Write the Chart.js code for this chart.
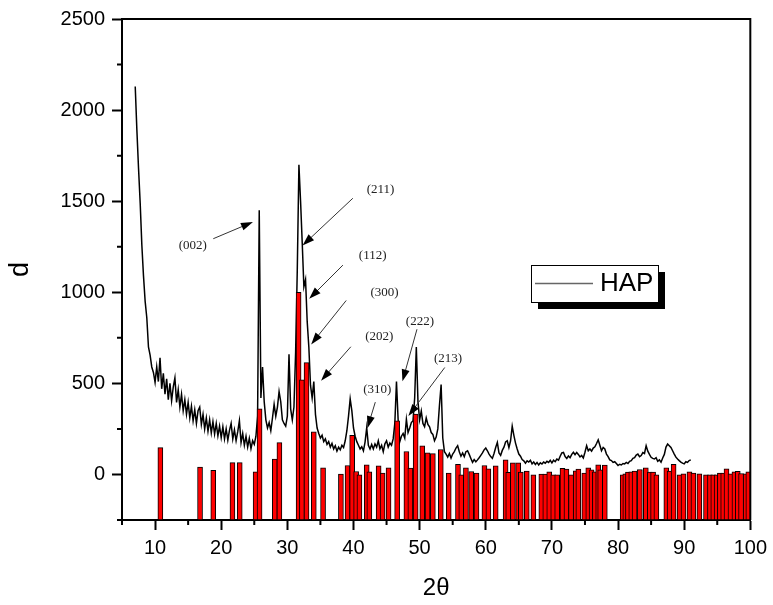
<!DOCTYPE html>
<html>
<head>
<meta charset="utf-8">
<script src="https://cdn.jsdelivr.net/npm/chart.js@4/dist/chart.umd.min.js"></script>
<style>
  body { margin: 0; background: #fff; }
  #wrap { width: 773px; height: 605px; }
</style>
</head>
<body>
<div id="wrap"><canvas id="xrdChart" width="773" height="605"></canvas></div>
<script>
// axis ranges / ticks
const xMin = 5, xMax = 100;
const yMin = -250, yMax = 2500;
const xTicks = [10, 20, 30, 40, 50, 60, 70, 80, 90, 100];
const xMinorTicks = [5, 15, 25, 35, 45, 55, 65, 75, 85, 95];
const yTicks = [0, 500, 1000, 1500, 2000, 2500];
const yMinorTicks = [-250, 250, 750, 1250, 1750, 2250];

// measured pattern (HAP): start angle, step, intensities (one row = one degree)
const scanLabel = "HAP";
const scanStart = 7;
const scanStep = 0.25;
const scanCounts = [
  2130, 1890, 1680, 1490,   // 7
  1260, 1090, 950, 860,     // 8
  700, 655, 590, 560,       // 9
  505, 590, 510, 640,       // 10
  470, 555, 440, 525,       // 11
  410, 500, 405, 480,       // 12
  530, 395, 465, 370,       // 13
  440, 350, 410, 330,       // 14
  395, 310, 375, 295,       // 15
  355, 280, 350, 370,       // 16
  275, 330, 250, 310,       // 17
  238, 300, 228, 290,       // 18
  222, 280, 212, 265,       // 19
  202, 262, 195, 250,       // 20
  188, 242, 280, 195,       // 21
  245, 185, 235, 295,       // 22
  175, 225, 160, 210,       // 23
  150, 198, 142, 185,       // 24
  165, 210, 320, 1450,      // 25
  420, 590, 400, 300,       // 26
  255, 285, 240, 310,       // 27
  385, 320, 370, 455,       // 28
  400, 300, 280, 265,       // 29
  320, 660, 360, 300,       // 30
  370, 670, 1120, 1700,     // 31
  1500, 1270, 1030, 1070,   // 32
  840, 700, 490, 420,       // 33
  510, 330, 255, 225,       // 34
  200, 215, 180, 195,       // 35
  165, 180, 150, 170,       // 36
  140, 158, 128, 150,       // 37
  135, 160, 148, 185,       // 38
  240, 320, 415, 350,       // 39
  255, 210, 180, 160,       // 40
  140, 152, 130, 178,       // 41
  257, 160, 140, 165,       // 42
  140, 168, 150, 185,       // 43
  140, 160, 125, 168,       // 44
  185, 150, 172, 160,       // 45
  195, 280, 510, 300,       // 46
  180, 210, 225, 200,       // 47
  303, 230, 255, 285,       // 48
  295, 420, 700, 400,       // 49
  300, 348, 280, 262,       // 50
  310, 275, 262, 230,       // 51
  220, 185, 205, 250,       // 52
  380, 493, 200, 125,       // 53
  112, 95, 115, 90,         // 54
  112, 125, 145, 158,       // 55
  125, 100, 118, 98,        // 56
  125, 130, 110, 88,        // 57
  67, 82, 70, 80,           // 58
  92, 105, 118, 135,        // 59
  145, 130, 112, 98,        // 60
  88, 115, 148, 176,        // 61
  118, 105, 132, 150,       // 62
  178, 185, 148, 185,       // 63
  265, 215, 172, 140,       // 64
  112, 100, 82, 75,         // 65
  62, 75, 68, 78,           // 66
  58, 68, 55, 66,           // 67
  52, 64, 57, 68,           // 68
  62, 72, 66, 78,           // 69
  64, 78, 70, 84,           // 70
  78, 100, 118, 121,        // 71
  98, 88, 102, 92,          // 72
  110, 122, 108, 121,       // 73
  110, 96, 104, 90,         // 74
  122, 158, 130, 140,       // 75
  128, 145, 152, 170,       // 76
  190, 160, 130, 148,       // 77
  140, 112, 98, 80,         // 78
  76, 66, 70, 60,           // 79
  49, 56, 52, 60,           // 80
  58, 66, 60, 72,           // 81
  76, 88, 92, 106,          // 82
  112, 98, 104, 120,        // 83
  115, 158, 128, 110,       // 84
  94, 88, 85, 92,           // 85
  72, 80, 67, 90,           // 86
  110, 150, 167, 158,       // 87
  148, 130, 112, 95,        // 88
  85, 76, 68, 62,           // 89
  58, 70, 66, 76,           // 90
  80                        // 91
];

// reference pattern sticks
const refTheta = [10.8, 16.8, 18.8, 21.7, 22.8, 25.2, 25.8, 28.1, 28.8, 31.7, 32.2, 32.9, 34.0, 35.4,
  38.1, 39.1, 39.8, 40.4, 40.9, 42.0, 42.4, 43.8, 44.4, 45.3, 46.6, 48.0, 48.6, 49.4, 50.4, 51.2,
  52.0, 53.2, 54.4, 55.8, 56.3, 57.0, 57.8, 58.6, 59.8, 60.4, 61.5, 63.0, 63.4, 64.1, 64.9, 65.3,
  66.2, 67.2, 68.4, 69.0, 69.6, 70.2, 70.8, 71.6, 72.2, 72.9, 73.6, 74.0, 74.9, 75.5, 76.0, 76.5,
  77.0, 77.3, 78.0, 80.7, 81.1, 81.5, 82.0, 82.5, 83.3, 84.2, 84.8, 85.3, 85.8, 87.3, 87.8, 88.4,
  89.3, 89.9, 90.8, 91.4, 92.3, 93.3, 93.9, 94.4, 94.9, 95.4, 95.9, 96.4, 97.0, 97.6, 98.1, 98.6,
  99.3, 99.7];
const refCounts = [147, 40, 22, 65, 65, 15, 360, 85, 175, 1000, 520, 614, 234, 36,
  2, 49, 215, 16, 0, 53, 14, 47, 8, 37, 294, 126, 35, 332, 157, 119,
  114, 137, 8, 56, 0, 36, 16, 7, 49, 31, 47, 80, 11, 64, 64, 13,
  19, 0, 2, 2, 15, 0, 0, 34, 30, 0, 20, 29, 7, 37, 25, 15,
  53, 25, 51, 0, 4, 13, 15, 18, 27, 36, 13, 13, 0, 36, 18, 55,
  0, 3, 14, 7, 3, 0, 0, 0, 0, 7, 7, 31, 3, 14, 17, 5,
  4, 15];

// peak labels: text anchor and arrow tail/head, in (2θ, d)
const peakLabels = ["(002)", "(211)", "(112)", "(300)", "(202)", "(310)", "(222)", "(213)"];
const labelAt = [[15.7, 1255], [44.1, 1565], [42.9, 1203], [44.7, 1000], [43.9, 759], [43.6, 466], [50.05, 841], [54.3, 634]];
const arrowFrom = [[18.8, 1294], [39.9, 1516], [38.4, 1149], [38.9, 955], [39.6, 701], [43.3, 397], [49.6, 797], [53.8, 587]];
const arrowTo = [[24.8, 1386], [32.3, 1257], [33.3, 964], [33.6, 714], [35.1, 515], [42.1, 254], [47.4, 511], [48.3, 321]];

const FONT = "Arial, 'Liberation Sans', sans-serif";

const scanData = scanCounts.map((c, i) => ({ x: scanStart + i * scanStep, y: c }));
const refData = refTheta.map((t, i) => ({ x: t, y: [yMin, refCounts[i]] }));

const extrasPlugin = {
  id: 'extras',
  afterDraw(chart) {
    const ctx = chart.ctx;
    const xs = chart.scales.x, ys = chart.scales.y;
    const area = chart.chartArea;
    ctx.save();
    // top / right frame
    ctx.strokeStyle = '#000';
    ctx.lineWidth = 2;
    ctx.beginPath();
    ctx.moveTo(area.left, area.top);
    ctx.lineTo(area.right, area.top);
    ctx.lineTo(area.right, area.bottom);
    ctx.stroke();
    // minor ticks
    ctx.beginPath();
    for (const v of xMinorTicks) {
      const px = xs.getPixelForValue(v);
      ctx.moveTo(px, area.bottom);
      ctx.lineTo(px, area.bottom + 5);
    }
    for (const v of yMinorTicks) {
      const py = ys.getPixelForValue(v);
      ctx.moveTo(area.left, py);
      ctx.lineTo(area.left - 5, py);
    }
    ctx.stroke();

    // peak arrows + labels
    ctx.font = "13px 'Liberation Serif', 'Times New Roman', serif";
    ctx.textAlign = 'center';
    ctx.textBaseline = 'middle';
    peakLabels.forEach((txt, i) => {
      const tx = xs.getPixelForValue(labelAt[i][0]), ty = ys.getPixelForValue(labelAt[i][1]);
      ctx.fillStyle = '#222';
      ctx.fillText(txt, tx, ty);
      const x1 = xs.getPixelForValue(arrowFrom[i][0]), y1 = ys.getPixelForValue(arrowFrom[i][1]);
      const x2 = xs.getPixelForValue(arrowTo[i][0]), y2 = ys.getPixelForValue(arrowTo[i][1]);
      const ang = Math.atan2(y2 - y1, x2 - x1);
      const hl = 12, hw = 4;
      ctx.strokeStyle = '#333';
      ctx.lineWidth = 1;
      ctx.beginPath();
      ctx.moveTo(x1, y1);
      ctx.lineTo(x2 - Math.cos(ang) * hl * 0.8, y2 - Math.sin(ang) * hl * 0.8);
      ctx.stroke();
      ctx.fillStyle = '#000';
      ctx.beginPath();
      ctx.moveTo(x2, y2);
      ctx.lineTo(x2 - Math.cos(ang) * hl - Math.sin(ang) * hw, y2 - Math.sin(ang) * hl + Math.cos(ang) * hw);
      ctx.lineTo(x2 - Math.cos(ang) * hl + Math.sin(ang) * hw, y2 - Math.sin(ang) * hl - Math.cos(ang) * hw);
      ctx.closePath();
      ctx.fill();
    });

    // legend box with drop shadow
    const bx = area.left + 409, by = area.top + 246, bw = 127, bh = 37;
    ctx.fillStyle = '#000';
    ctx.fillRect(bx + 7, by + 7, bw, bh);
    ctx.fillStyle = '#fff';
    ctx.fillRect(bx, by, bw, bh);
    ctx.strokeStyle = '#000';
    ctx.lineWidth = 1;
    ctx.strokeRect(bx + 0.5, by + 0.5, bw, bh);
    ctx.strokeStyle = '#666';
    ctx.lineWidth = 1.5;
    ctx.beginPath();
    ctx.moveTo(bx + 4, by + 18.5);
    ctx.lineTo(bx + 62, by + 18.5);
    ctx.stroke();
    ctx.fillStyle = '#000';
    ctx.font = '26px ' + FONT;
    ctx.textAlign = 'left';
    ctx.fillText(chart.data.datasets[1].label, bx + 69, by + 19);
    ctx.restore();
  }
};

new Chart(document.getElementById('xrdChart'), {
  type: 'bar',
  data: {
    datasets: [{
      type: 'bar',
      label: 'reference',
      data: refData,
      backgroundColor: '#ff0000',
      borderColor: '#000',
      borderWidth: 1,
      borderSkipped: false,
      barThickness: 5,
      order: 1
    }, {
      type: 'line',
      label: scanLabel,
      data: scanData,
      borderColor: '#000',
      borderWidth: 1.5,
      pointRadius: 0,
      tension: 0,
      fill: false,
      order: 2
    }]
  },
  options: {
    responsive: false,
    animation: false,
    devicePixelRatio: 1,
    layout: { padding: { top: 12, right: 20, left: 0, bottom: 0 } },
    plugins: { legend: { display: false }, tooltip: { enabled: false } },
    scales: {
      x: {
        type: 'linear',
        min: xMin,
        max: xMax,
        offset: false,
        afterBuildTicks: s => { s.ticks = xTicks.map(v => ({ value: v })); },
        afterFit: s => { s.height = 85; },
        grid: { drawOnChartArea: false, offset: false, tickLength: 10, tickWidth: 2, tickColor: '#000' },
        border: { display: true, color: '#000', width: 2 },
        ticks: { color: '#000', font: { family: FONT, size: 20 }, padding: 6, maxRotation: 0, autoSkip: false,
          callback: v => String(v) },
        title: { display: true, text: '2θ', color: '#000', font: { family: FONT, size: 24 }, padding: { top: 0, bottom: 2 } }
      },
      y: {
        type: 'linear',
        min: yMin,
        max: yMax,
        afterBuildTicks: s => { s.ticks = yTicks.map(v => ({ value: v })); },
        afterFit: s => { s.width = 122; },
        grid: { drawOnChartArea: false, tickLength: 10, tickWidth: 2, tickColor: '#000' },
        border: { display: true, color: '#000', width: 2 },
        ticks: { color: '#000', font: { family: FONT, size: 20 }, padding: 7, autoSkip: false,
          callback: v => String(v) },
        title: { display: true, text: 'd', color: '#000', font: { family: FONT, size: 27 }, padding: { top: 4, bottom: 0 } }
      }
    }
  },
  plugins: [extrasPlugin]
});
</script>
</body>
</html>
